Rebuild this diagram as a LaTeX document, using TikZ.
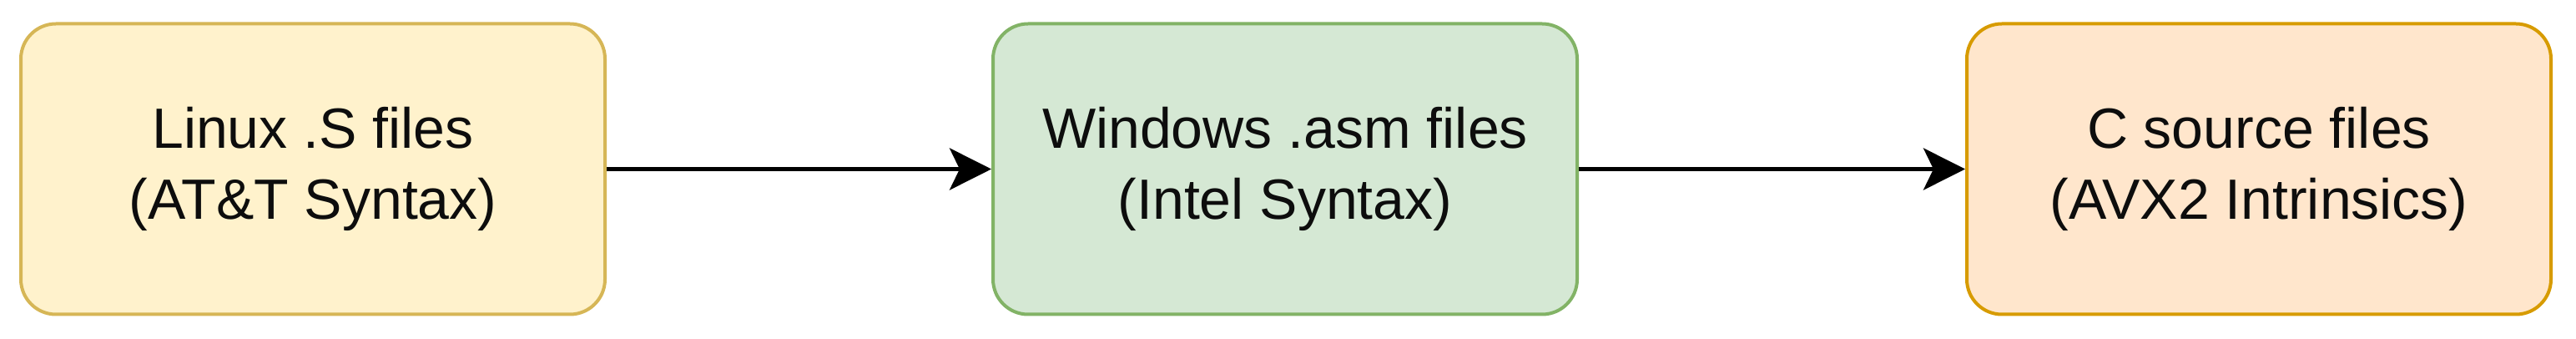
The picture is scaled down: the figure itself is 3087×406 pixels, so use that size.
\documentclass[tikz,border=0pt]{standalone}
\usepackage{fontspec}
\setmainfont{Liberation Sans}
\usetikzlibrary{arrows.meta}
\definecolor{yfill}{HTML}{FFF2CC}
\definecolor{ydraw}{HTML}{D6B656}
\definecolor{gfill}{HTML}{D5E8D4}
\definecolor{gdraw}{HTML}{82B366}
\definecolor{ofill}{HTML}{FFE6CC}
\definecolor{odraw}{HTML}{D79B00}
\tikzset{
  box/.style={rounded corners=10.5pt, line width=1pt, minimum width=175pt, minimum height=87pt,
    align=center, inner sep=0pt, font=\fontsize{17pt}{21.25pt}\selectfont, text=black!95},
  conn/.style={line width=1.25pt, -{Stealth[length=12.5pt, width=12.5pt, inset=3pt]}}
}
\begin{document}
\begin{tikzpicture}[x=0.25pt,y=-0.25pt]
\useasboundingbox (0,0) rectangle (3087,406);
\node[box, fill=yfill, draw=ydraw] (b1) at (375,202.5) {Linux .S files\\(AT\&T Syntax)};
\node[box, fill=gfill, draw=gdraw] (b2) at (1540,202.5) {Windows .asm files\\(Intel Syntax)};
\node[box, fill=ofill, draw=odraw] (b3) at (2707,202.5) {C source files\\(AVX2 Intrinsics)};
\draw[conn] (b1) -- (b2);
\draw[conn] (b2) -- (b3);
\end{tikzpicture}
\end{document}
